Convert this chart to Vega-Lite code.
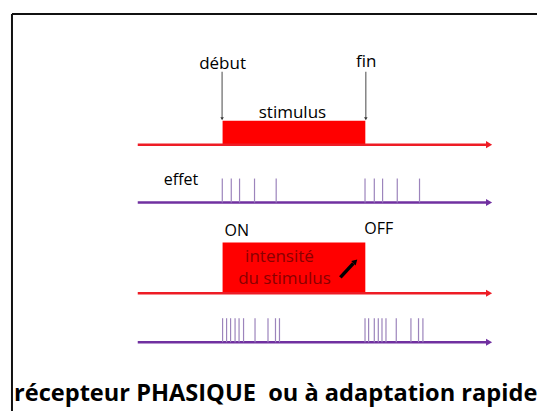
{
  "$schema": "https://vega.github.io/schema/vega-lite/v6.json",
  "width": 538,
  "height": 412,
  "padding": 0,
  "autosize": {"type": "fit", "contains": "padding"},
  "background": "white",
  "config": {"view": {"stroke": null}},
  "datasets": {
    "frame": [
      {"x": 12, "x2": 538, "y": 14, "y2": 14},
      {"x": 12, "x2": 12, "y": 14, "y2": 412}
    ],
    "axes": [
      {"kind": "stimulus", "x": 138, "x2": 489, "y": 145},
      {"kind": "effet", "x": 138, "x2": 489, "y": 203},
      {"kind": "stimulus", "x": 138, "x2": 489, "y": 294},
      {"kind": "effet", "x": 138, "x2": 489, "y": 343}
    ],
    "heads": [
      {"kind": "stimulus", "x": 490, "y": 145},
      {"kind": "effet", "x": 490, "y": 203},
      {"kind": "stimulus", "x": 490, "y": 294},
      {"kind": "effet", "x": 490, "y": 343}
    ],
    "blocks": [
      {"x": 223, "x2": 366, "y": 121, "y2": 145},
      {"x": 223, "x2": 366, "y": 243, "y2": 294}
    ],
    "spikes": [
      {"x": 222.7, "y": 179, "y2": 203}, {"x": 231.7, "y": 179, "y2": 203}, {"x": 240, "y": 179, "y2": 203}, {"x": 255, "y": 179, "y2": 203}, {"x": 276.7, "y": 179, "y2": 203},
      {"x": 365.7, "y": 179, "y2": 203}, {"x": 375, "y": 179, "y2": 203}, {"x": 383.3, "y": 179, "y2": 203}, {"x": 398, "y": 179, "y2": 203}, {"x": 420.3, "y": 179, "y2": 203},
      {"x": 223, "y": 319, "y2": 343}, {"x": 227, "y": 319, "y2": 343}, {"x": 231, "y": 319, "y2": 343}, {"x": 235.5, "y": 319, "y2": 343}, {"x": 239.5, "y": 319, "y2": 343}, {"x": 244, "y": 319, "y2": 343}, {"x": 255.5, "y": 319, "y2": 343}, {"x": 268.5, "y": 319, "y2": 343}, {"x": 276, "y": 319, "y2": 343}, {"x": 280, "y": 319, "y2": 343},
      {"x": 365.7, "y": 319, "y2": 343}, {"x": 369.3, "y": 319, "y2": 343}, {"x": 375, "y": 319, "y2": 343}, {"x": 379, "y": 319, "y2": 343}, {"x": 382.7, "y": 319, "y2": 343}, {"x": 386.7, "y": 319, "y2": 343}, {"x": 397, "y": 319, "y2": 343}, {"x": 411.7, "y": 319, "y2": 343}, {"x": 419.3, "y": 319, "y2": 343}, {"x": 423.7, "y": 319, "y2": 343}
    ],
    "pointers": [
      {"x": 222.5, "x2": 222.5, "y": 72, "y2": 118},
      {"x": 366.5, "x2": 366.5, "y": 72, "y2": 118}
    ],
    "pointerTips": [
      {"x": 222.5, "y": 119},
      {"x": 366.5, "y": 119}
    ],
    "intensity": [
      {"x": 341, "x2": 354, "y": 278, "y2": 264}
    ],
    "intensityTip": [
      {"x": 356, "y": 262}
    ],
    "labelsCenter": [
      {"label": "début", "x": 223, "y": 69},
      {"label": "fin", "x": 367, "y": 67},
      {"label": "stimulus", "x": 293, "y": 118}
    ],
    "labelsLeft": [
      {"label": "effet", "x": 164, "y": 185},
      {"label": "ON", "x": 225, "y": 237},
      {"label": "OFF", "x": 365, "y": 235}
    ],
    "labelsInside": [
      {"label": "intensité", "x": 280, "y": 263},
      {"label": "du stimulus", "x": 285, "y": 285}
    ],
    "caption": [
      {"label": "récepteur PHASIQUE\u00a0 ou à adaptation rapide", "x": 14, "y": 402}
    ]
  },
  "encoding": {
    "x": {"field": "x", "type": "quantitative", "scale": {"domain": [0, 538], "nice": false, "zero": false}, "axis": null},
    "y": {"field": "y", "type": "quantitative", "scale": {"domain": [0, 412], "nice": false, "zero": false, "reverse": true}, "axis": null}
  },
  "layer": [
    {
      "data": {"name": "frame"},
      "mark": {"type": "rule", "color": "#111111", "strokeWidth": 2},
      "encoding": {"x2": {"field": "x2"}, "y2": {"field": "y2"}}
    },
    {
      "data": {"name": "blocks"},
      "mark": {"type": "rect", "color": "#ff0000"},
      "encoding": {"x2": {"field": "x2"}, "y2": {"field": "y2"}}
    },
    {
      "data": {"name": "axes"},
      "mark": {"type": "rule", "strokeWidth": 2.5},
      "encoding": {
        "x2": {"field": "x2"},
        "color": {"field": "kind", "type": "nominal", "scale": {"domain": ["stimulus", "effet"], "range": ["#ee1c25", "#7030a0"]}, "legend": null}
      }
    },
    {
      "data": {"name": "heads"},
      "mark": {"type": "point", "shape": "triangle-right", "filled": true, "opacity": 1, "size": 50},
      "encoding": {
        "color": {"field": "kind", "type": "nominal", "scale": {"domain": ["stimulus", "effet"], "range": ["#ee1c25", "#7030a0"]}, "legend": null}
      }
    },
    {
      "data": {"name": "spikes"},
      "mark": {"type": "rule", "color": "#9c84bc", "strokeWidth": 1.2},
      "encoding": {"y2": {"field": "y2"}}
    },
    {
      "data": {"name": "pointers"},
      "mark": {"type": "rule", "color": "#666666", "strokeWidth": 1.2},
      "encoding": {"x2": {"field": "x2"}, "y2": {"field": "y2"}}
    },
    {
      "data": {"name": "pointerTips"},
      "mark": {"type": "point", "shape": "triangle-down", "filled": true, "opacity": 1, "size": 12, "color": "#333333"},
      "encoding": {}
    },
    {
      "data": {"name": "intensity"},
      "mark": {"type": "rule", "color": "#000000", "strokeWidth": 3.5},
      "encoding": {"x2": {"field": "x2"}, "y2": {"field": "y2"}}
    },
    {
      "data": {"name": "intensityTip"},
      "mark": {"type": "point", "shape": "triangle-up", "angle": 45, "filled": true, "opacity": 1, "size": 40, "color": "#000000"},
      "encoding": {}
    },
    {
      "data": {"name": "labelsCenter"},
      "mark": {"type": "text", "align": "center", "baseline": "alphabetic", "font": "Open Sans", "fontSize": 17, "color": "#000000"},
      "encoding": {"text": {"field": "label"}}
    },
    {
      "data": {"name": "labelsLeft"},
      "mark": {"type": "text", "align": "left", "baseline": "alphabetic", "font": "Open Sans", "fontSize": 16, "color": "#000000"},
      "encoding": {"text": {"field": "label"}}
    },
    {
      "data": {"name": "labelsInside"},
      "mark": {"type": "text", "align": "center", "baseline": "alphabetic", "font": "Open Sans", "fontSize": 17, "color": "#8a0000"},
      "encoding": {"text": {"field": "label"}}
    },
    {
      "data": {"name": "caption"},
      "mark": {"type": "text", "align": "left", "baseline": "alphabetic", "font": "Open Sans", "fontSize": 23.6, "fontWeight": "bold", "color": "#000000"},
      "encoding": {"text": {"field": "label"}}
    }
  ]
}
